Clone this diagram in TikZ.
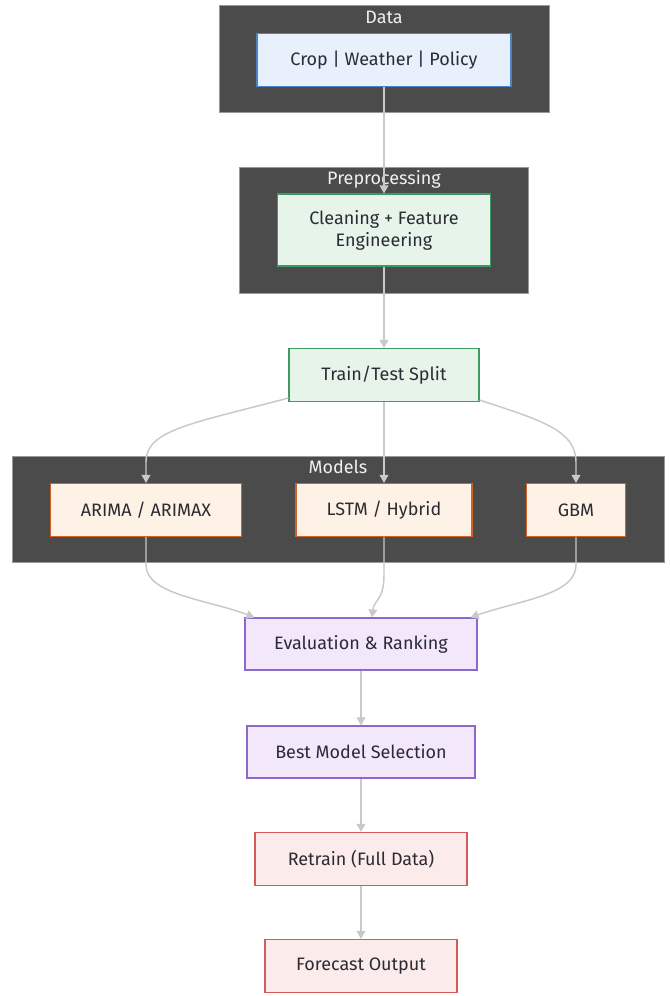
\documentclass[tikz,border=0pt]{standalone}
\usepackage{fontspec}
\setmainfont{Fira Sans}
\usetikzlibrary{arrows.meta,calc}
\definecolor{clfill}{HTML}{4A4B4A}
\definecolor{clline}{HTML}{9A9A9A}
\definecolor{txt}{HTML}{2B2B33}
\definecolor{edgec}{HTML}{C9C9C9}
\definecolor{bluef}{HTML}{E8F0FC}\definecolor{bluel}{HTML}{4D82C8}
\definecolor{greenf}{HTML}{E6F4EA}\definecolor{greenl}{HTML}{3D9A62}
\definecolor{orangef}{HTML}{FEF2E6}\definecolor{orangel}{HTML}{D0622C}
\definecolor{purplef}{HTML}{F3E7FC}\definecolor{purplel}{HTML}{8C68CA}
\definecolor{redf}{HTML}{FCEBEB}\definecolor{redl}{HTML}{D35B5B}
\tikzset{
  box/.style={draw, line width=0.8pt, rectangle, align=center, text=txt,
    font=\fontsize{13.5}{16.5}\selectfont, inner sep=0pt},
  bluebox/.style={box, fill=bluef, draw=bluel},
  greenbox/.style={box, fill=greenf, draw=greenl},
  orangebox/.style={box, fill=orangef, draw=orangel},
  purplebox/.style={box, fill=purplef, draw=purplel},
  redbox/.style={box, fill=redf, draw=redl},
  cluster/.style={fill=clfill, draw=clline, line width=0.6pt},
  cllabel/.style={text=white!94!black, font=\fontsize{13.5}{16}\selectfont, inner sep=0pt},
  edge/.style={draw=edgec, line width=1.1pt, -{Triangle[length=6pt,width=6.5pt]}}
}
\begin{document}
\begin{tikzpicture}[x=0.75pt,y=-0.75pt]
\useasboundingbox[fill=white] (0,0) rectangle (670,996);
% clusters
\draw[cluster] (219,5) rectangle (549,112);
\node[cllabel] (ldata) at (384,17) {Data};
\draw[cluster] (239,167) rectangle (528,293);
\node[cllabel] (lpre) at (384,179) {Preprocessing};
\draw[cluster] (12,456) rectangle (664,562);
\node[cllabel] (lmod) at (338,467) {Models};
% nodes
\node[bluebox, minimum width=190.5pt, minimum height=39.75pt] (data) at (384,60) {Crop | Weather | Policy};
\node[greenbox, minimum width=159.75pt, minimum height=54pt] (clean) at (384,230) {Cleaning + Feature\\Engineering};
\node[greenbox, minimum width=142.5pt, minimum height=39.75pt] (split) at (384,375) {Train/Test Split};
\node[orangebox, minimum width=143.25pt, minimum height=39.75pt] (arima) at (146,510) {ARIMA / ARIMAX};
\node[orangebox, minimum width=132pt, minimum height=39.75pt] (lstm) at (384,510) {LSTM / Hybrid};
\node[orangebox, minimum width=74.25pt, minimum height=39.75pt] (gbm) at (576,510) {GBM};
\node[purplebox, minimum width=174pt, minimum height=39pt] (eval) at (361,644) {Evaluation \& Ranking};
\node[purplebox, minimum width=171pt, minimum height=39pt] (best) at (361,752) {Best Model Selection};
\node[redbox, minimum width=159pt, minimum height=39.75pt] (retrain) at (361,859) {Retrain (Full Data)};
\node[redbox, minimum width=144pt, minimum height=39.75pt] (fore) at (361,966) {Forecast Output};
% edges
\draw[edge] (data.south) -- (clean.north);
\draw[edge] (clean.south) -- (split.north);
\draw[edge] ($(split.south west)+(0,-4)$) .. controls (190,424) and (146,430) .. (146,462) -- (arima.north);
\draw[edge] (split.south) -- (lstm.north);
\draw[edge] ($(split.south east)+(0,-2)$) .. controls (540,420) and (576,430) .. (576,462) -- (gbm.north);
\draw[edge] (arima.south) -- (146,565) .. controls (146,595) and (210,600) .. ($(eval.north west)+(10,0)$);
\draw[edge] (lstm.south) -- (384,575) .. controls (384,600) and (374,600) .. ($(eval.north)+(11,0)$);
\draw[edge] (gbm.south) -- (576,565) .. controls (576,595) and (520,600) .. ($(eval.north east)+(-7,0)$);
\draw[edge] (eval.south) -- (best.north);
\draw[edge] (best.south) -- (retrain.north);
\draw[edge] (retrain.south) -- (fore.north);
\end{tikzpicture}
\end{document}
